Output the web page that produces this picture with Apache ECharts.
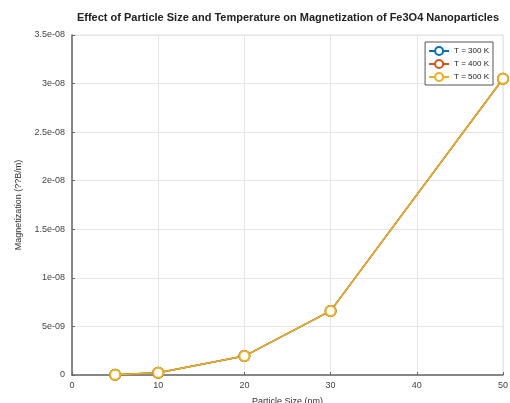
<!DOCTYPE html>
<html><head><meta charset="utf-8">
<script src="https://cdn.jsdelivr.net/npm/echarts@6/dist/echarts.min.js"></script>
<style>html,body{margin:0;padding:0;background:#fff}#c{width:510px;height:403px}</style>
</head><body><div id="c"></div>
<script>
const sizes = [5, 10, 20, 30, 50];
const m300 = [3.0e-11, 2.4e-10, 1.95e-9, 6.6e-9, 3.05e-8];
const m400 = [3.0e-11, 2.4e-10, 1.95e-9, 6.6e-9, 3.05e-8];
const m500 = [3.0e-11, 2.4e-10, 1.95e-9, 6.6e-9, 3.05e-8];
const yTickLabels = {0:'0',5:'5e-09',10:'1e-08',15:'1.5e-08',20:'2e-08',25:'2.5e-08',30:'3e-08',35:'3.5e-08'};
const names = ['T = 300 K','T = 400 K','T = 500 K'];
const colors = ['#0072BD','#D95319','#EDB120'];
const font = 'Liberation Sans, Arial, sans-serif';

const chart = echarts.init(document.getElementById('c'));
const mk = (name, vals, color) => ({
  name, type:'line', data: sizes.map((s,i)=>[s, vals[i]]),
  symbol:'emptyCircle', symbolSize:10,
  lineStyle:{color, width:1.5}, itemStyle:{color, borderWidth:1.3},
  emphasis:{disabled:true}
});
chart.setOption({
  animation:false,
  title:{text:'Effect of Particle Size and Temperature on Magnetization of Fe3O4 Nanoparticles',
    left:283, textAlign:'center', top:7,
    textStyle:{fontFamily:font, fontSize:11, fontWeight:'bold', color:'#222'}},
  legend:{right:17, top:42, orient:'vertical', itemGap:3, itemWidth:20, itemHeight:10,
    backgroundColor:'#fff', borderColor:'#555', borderWidth:1, padding:[4,4,3,3],
    textStyle:{fontFamily:font, fontSize:8, color:'#222'},
    data: names},
  grid:{left:72, right:7, top:35, bottom:28, outerBoundsMode:'none', containLabel:false,
    show:true, borderColor:'#e0e0e0', borderWidth:1},
  xAxis:{type:'value', min:0, max:50, interval:10,
    name:'Particle Size (nm)', nameLocation:'middle', nameGap:22,
    nameTextStyle:{fontFamily:font, fontSize:9, color:'#333'},
    axisLine:{lineStyle:{color:'#666', width:1.5}},
    axisTick:{inside:true, length:3, lineStyle:{color:'#666'}},
    axisLabel:{fontFamily:font, fontSize:9, color:'#444', margin:6},
    splitLine:{show:true, lineStyle:{color:'#e6e6e6'}}},
  yAxis:{type:'value', min:0, max:3.5e-8, interval:5e-9,
    name:'Magnetization (??B/m)', nameLocation:'middle', nameGap:49,
    nameTextStyle:{fontFamily:font, fontSize:9, color:'#333'},
    axisLine:{show:true, lineStyle:{color:'#666', width:1.5}},
    axisTick:{show:true, inside:true, length:3, lineStyle:{color:'#666'}},
    axisLabel:{fontFamily:font, fontSize:9, color:'#444', margin:7,
      formatter: v => yTickLabels[Math.round(v*1e9)] ?? ''},
    splitLine:{show:true, lineStyle:{color:'#e6e6e6'}}},
  series:[mk(names[0], m300, colors[0]), mk(names[1], m400, colors[1]), mk(names[2], m500, colors[2])]
});
</script></body></html>
